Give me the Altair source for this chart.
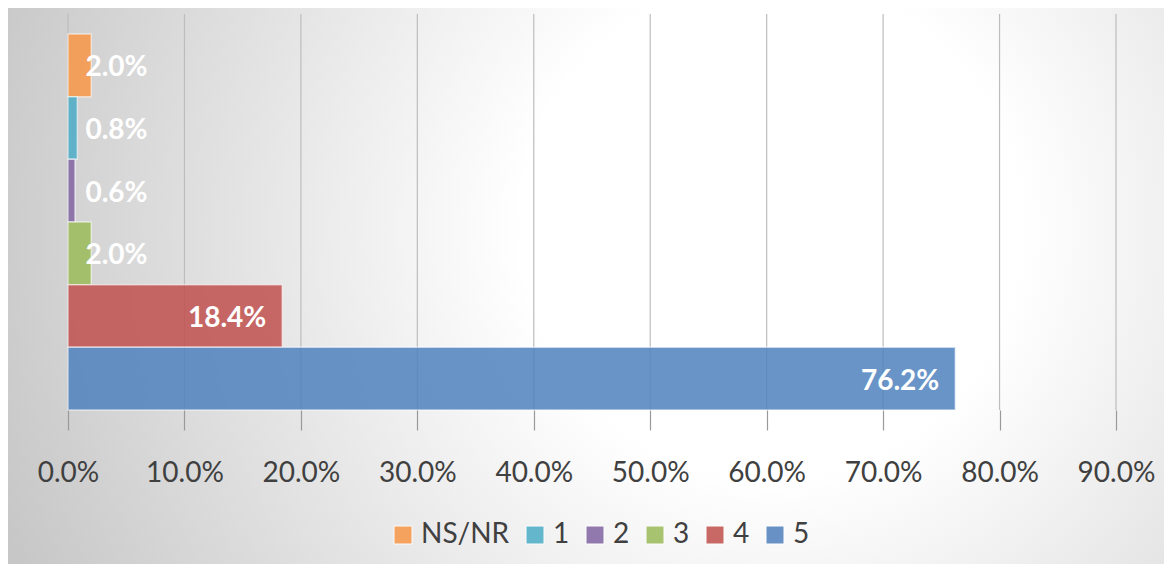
import altair as alt
import pandas as pd

categories = ["NS/NR", "1", "2", "3", "4", "5"]
values = [2.0, 0.8, 0.6, 2.0, 18.4, 76.2]
colors = ["#F79646", "#4BACC6", "#8064A2", "#9BBB59", "#C0504D", "#4F81BD"]
ticks = [0, 10, 20, 30, 40, 50, 60, 70, 80, 90]

W = 1048
H = 396
PL, PT, PR, PB = 60, 6, 48, 154

df = pd.DataFrame({"cat": categories, "v": values})
grid_df = pd.DataFrame({"t": ticks})

gradient = {
    "gradient": "radial",
    "x1": 0.66, "y1": 0.45, "r1": 0.0,
    "x2": 0.66, "y2": 0.45, "r2": 0.72,
    "stops": [
        {"offset": 0.0, "color": "#ffffff"},
        {"offset": 0.3, "color": "#ffffff"},
        {"offset": 1.0, "color": "#c6c6c6"},
    ],
}

bg = alt.Chart(pd.DataFrame({"a": [0]})).mark_rect(fill=gradient).encode(
    x=alt.value(-PL), x2=alt.value(W + PR), y=alt.value(-PT), y2=alt.value(H + PB)
)

xscale = alt.Scale(domain=[0, 90], nice=False)

xaxis = alt.Axis(
    values=ticks,
    labelExpr="format(datum.value, '.1f') + '%'",
    labelOverlap=False,
    labelFlush=False,
    labelBound=False,
    grid=False,
    domain=False,
    ticks=True,
    tickSize=20,
    tickColor="#9a9a9a",
    tickWidth=1.2,
    labelFont="Lato",
    labelFontSize=28,
    labelColor="#404040",
    labelPadding=29,
    zindex=1,
    title=None,
)

grid = alt.Chart(grid_df).mark_rule(color="#bdbdbd", strokeWidth=1.2).encode(
    x=alt.X("t:Q", scale=xscale, axis=xaxis),
    y=alt.value(0),
    y2=alt.value(H),
)

yenc = alt.Y(
    "cat:N",
    sort=categories,
    scale=alt.Scale(domain=categories, paddingInner=0, paddingOuter=0.16, align=1),
    axis=None,
)

bars = alt.Chart(df).mark_bar(
    fillOpacity=0.85, stroke="white", strokeOpacity=0.55, strokeWidth=1.5
).encode(
    x=alt.X("v:Q", scale=xscale, axis=xaxis),
    y=yenc,
    color=alt.Color(
        "cat:N",
        sort=categories,
        scale=alt.Scale(domain=categories, range=colors),
        legend=alt.Legend(
            orient="none",
            legendX=321,
            legendY=507,
            direction="horizontal",
            title=None,
            symbolType="square",
            symbolSize=324,
            symbolOpacity=0.85,
            symbolStrokeColor="white",
            symbolStrokeWidth=1,
            labelFont="Lato",
            labelFontSize=28,
            labelColor="#404040",
            labelOffset=4,
            columnPadding=11,
            padding=0,
            zindex=1,
        ),
    ),
)

labels = alt.Chart(df).transform_calculate(
    pos="max(datum.v, 8.2)",
    label="format(datum.v, '.1f') + '%'",
).mark_text(
    align="right", baseline="middle", dx=-16, dy=3,
    font="Lato", fontSize=28, fontWeight="bold", color="white",
).encode(
    x=alt.X("pos:Q", scale=xscale, axis=xaxis),
    y=yenc,
    text="label:N",
)

chart = alt.layer(bg, grid, bars, labels).properties(
    width=W,
    height=H,
    padding={"left": PL, "top": PT, "right": PR, "bottom": PB},
    autosize=alt.AutoSizeParams(type="none"),
).configure_view(stroke=None)

chart.save("out.html", embed_options={"renderer": "svg", "actions": False})
